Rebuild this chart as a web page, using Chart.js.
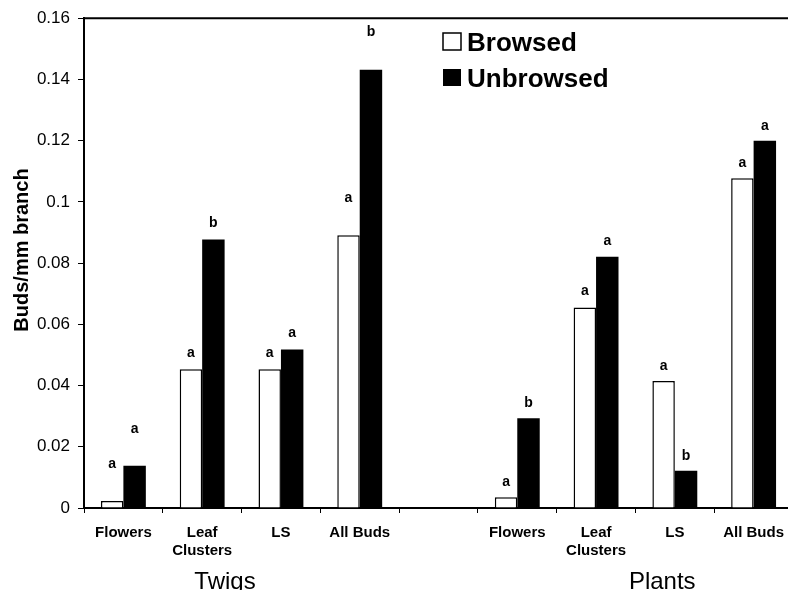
<!DOCTYPE html>
<html>
<head>
<meta charset="utf-8">
<script src="https://cdn.jsdelivr.net/npm/chart.js@4"></script>
<style>
  html, body { margin: 0; padding: 0; background: #fff; overflow: hidden; }
  #grafico { display: block; }
</style>
</head>
<body>
<canvas id="grafico" width="796" height="590"></canvas>
<script>
const categorias = ["Flowers", ["Leaf", "Clusters"], "LS", "All Buds", "", "Flowers", ["Leaf", "Clusters"], "LS", "All Buds"];
const valoresBrowsed = [0.0023, 0.0453, 0.0453, 0.0891, null, 0.0035, 0.0655, 0.0415, 0.1077];
const valoresUnbrowsed = [0.0138, 0.0877, 0.0518, 0.1432, null, 0.0293, 0.0821, 0.0122, 0.12];
const letrasBrowsed = ["a", "a", "a", "a", "", "a", "a", "a", "a"];
const letrasUnbrowsed = ["a", "b", "a", "b", "", "b", "a", "b", "a"];
const grupos = ["Twigs", "Plants"];
const series = ["Browsed", "Unbrowsed"];

const fuente = "'Liberation Sans', Arial, sans-serif";

// letras, leyenda, titulos y marco superior
const dibujoExtra = {
  id: "dibujoExtra",
  afterDraw(chart) {
    const ctx = chart.ctx;
    const area = chart.chartArea;
    const escalaX = chart.scales.x;
    ctx.save();

    ctx.strokeStyle = "#000";
    ctx.lineWidth = 2;
    ctx.beginPath();
    ctx.moveTo(area.left - 1, area.top);
    ctx.lineTo(area.right, area.top);
    ctx.stroke();

    // letras sobre las barras
    const separacion = [37, 16, 16, 37, 0, 15, 16, 15, 15];
    ctx.fillStyle = "#000";
    ctx.font = "bold 14px " + fuente;
    ctx.textAlign = "center";
    ctx.textBaseline = "middle";
    [letrasBrowsed, letrasUnbrowsed].forEach((letras, d) => {
      chart.getDatasetMeta(d).data.forEach((barra, i) => {
        if (!letras[i]) return;
        ctx.fillText(letras[i], barra.x, barra.y - separacion[i]);
      });
    });

    // grupos bajo el eje
    ctx.font = "24px " + fuente;
    ctx.textBaseline = "alphabetic";
    ctx.fillText(grupos[0], escalaX.getPixelForValue(1.29), 589);
    ctx.fillText(grupos[1], escalaX.getPixelForValue(6.84), 589);

    // titulo eje y
    ctx.save();
    ctx.translate(22, 250);
    ctx.rotate(-Math.PI / 2);
    ctx.font = "bold 20px " + fuente;
    ctx.textBaseline = "middle";
    ctx.fillText("Buds/mm branch", 0, 0);
    ctx.restore();

    // leyenda
    ctx.lineWidth = 1.5;
    ctx.fillStyle = "#fff";
    ctx.fillRect(443, 33, 18, 17);
    ctx.strokeRect(443, 33, 18, 17);
    ctx.fillStyle = "#000";
    ctx.fillRect(443, 69, 18, 17);
    ctx.font = "bold 26px " + fuente;
    ctx.textAlign = "left";
    ctx.fillText(series[0], 467, 51);
    ctx.fillText(series[1], 467, 87);

    ctx.restore();
  },
};

const canvas = document.getElementById("grafico");

new Chart(canvas, {
  type: "bar",
  data: {
    labels: categorias,
    datasets: [
      {
        label: series[0],
        data: valoresBrowsed,
        backgroundColor: "#fff",
        borderColor: "#000",
        borderWidth: 1.5,
        categoryPercentage: 0.57,
        barPercentage: 1,
      },
      {
        label: series[1],
        data: valoresUnbrowsed,
        backgroundColor: "#000",
        borderColor: "#000",
        borderWidth: 0,
        categoryPercentage: 0.57,
        barPercentage: 1,
      },
    ],
  },
  options: {
    responsive: false,
    animation: false,
    layout: { padding: { top: 18, right: 3, left: 0, bottom: 0 } },
    plugins: {
      legend: { display: false },
      tooltip: { enabled: false },
    },
    scales: {
      x: {
        grid: { drawOnChartArea: false, color: "#000", tickLength: 5, offset: true },
        border: { color: "#000", width: 2 },
        ticks: {
          color: "#000",
          font: { family: fuente, size: 15, weight: "bold" },
          padding: 11,
          maxRotation: 0,
          autoSkip: false,
        },
        afterFit: (escala) => {
          escala.height = 82;
        },
      },
      y: {
        min: 0,
        max: 0.16,
        ticks: {
          stepSize: 0.02,
          color: "#000",
          font: { family: fuente, size: 17 },
          padding: 8,
          callback: (v) => String(+v.toFixed(2)),
        },
        grid: { drawOnChartArea: false, color: "#000", tickLength: 6 },
        border: { color: "#000", width: 2 },
        afterFit: (escala) => {
          escala.width = 84;
        },
      },
    },
  },
  plugins: [dibujoExtra],
});
</script>
</body>
</html>
